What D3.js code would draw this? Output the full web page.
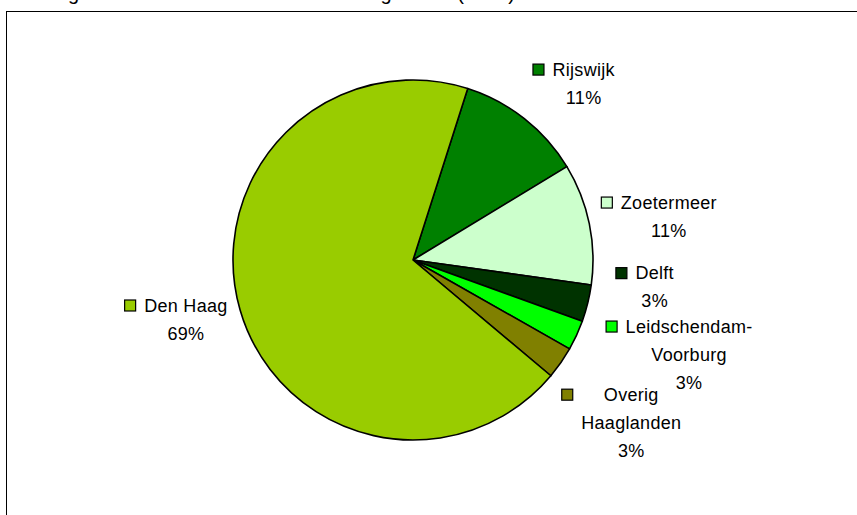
<!DOCTYPE html>
<html>
<head>
<meta charset="utf-8">
<script src="https://cdn.jsdelivr.net/npm/d3@7"></script>
<style>
  body { margin: 0; background: #fff; }
  svg { display: block; }
  text { font-family: "Liberation Sans", Arial, sans-serif; font-size: 18px; fill: #000; }
</style>
</head>
<body>
<script>
// Chart data
var gemeenten = ["Rijswijk", "Zoetermeer", "Delft", "Leidschendam-Voorburg", "Overig Haaglanden", "Den Haag"];
var aandeel = [11.4, 10.9, 3.3, 2.7, 2.9, 68.8];
var kleuren = ["#008000", "#CCFFCC", "#003300", "#00FF00", "#808000", "#99CC00"];
// label text as it wraps in the chart
var labelRegels = [["Rijswijk"], ["Zoetermeer"], ["Delft"], ["Leidschendam-", "Voorburg"], ["Overig", "Haaglanden"], ["Den Haag"]];
var titel = "Leerlingen VO met een woonadres in Haaglanden (2006)";

var svgWidth = 857;
var svgHeight = 515;

var cx = 413, cy = 260, radius = 180;
var lineHeight = 28;
// fine placement of the labels relative to the slice direction
var labelNudge = [[16, 20], [11, 7], [-1, -33], [49, -10], [13, 20], [13, -10]];

var svg = d3.select("body")
  .append("svg")
  .attr("width", svgWidth)
  .attr("height", svgHeight);

// title, mostly cut off at the top of the picture (only descenders show)
svg.append("text")
  .attr("x", 8)
  .attr("y", 0)
  .style("font-size", "20px")
  .text(titel);

// chart area border (runs off the right and bottom)
svg.append("rect")
  .attr("x", 6.5)
  .attr("y", 11.5)
  .attr("width", svgWidth + 20)
  .attr("height", svgHeight + 20)
  .attr("fill", "none")
  .attr("stroke", "#000")
  .attr("stroke-width", 1);

var start = 17.7 * Math.PI / 180;
var pie = d3.pie()
  .sort(null)
  .value(d => d)
  .startAngle(start)
  .endAngle(start + 2 * Math.PI);

var arcs = pie(aandeel);

var arc = d3.arc().innerRadius(0).outerRadius(radius);
var labelArc = d3.arc().innerRadius(250).outerRadius(250);

var g = svg.append("g")
  .attr("transform", `translate(${cx}, ${cy})`);

g.selectAll("path")
  .data(arcs)
  .enter()
  .append("path")
  .attr("d", arc)
  .attr("fill", (d, i) => kleuren[i])
  .attr("stroke", "#000")
  .attr("stroke-width", 1.6)
  .attr("stroke-linejoin", "round");

var pct = d3.format(".0f");

arcs.forEach(function(d, i) {
  var c = labelArc.centroid(d);
  var x = c[0] + labelNudge[i][0];
  var y = c[1] + labelNudge[i][1];
  var regels = labelRegels[i].concat([pct(aandeel[i]) + "%"]);
  var top = y - (regels.length - 1) / 2 * lineHeight;

  var lg = g.append("g").attr("class", "label");
  var widths = [];
  regels.forEach(function(r, j) {
    var t = lg.append("text")
      .attr("x", x)
      .attr("y", top + j * lineHeight)
      .attr("dy", "0.35em")
      .attr("text-anchor", "middle")
      .attr("letter-spacing", "0.3px")
      .text(r);
    widths.push(t.node().getComputedTextLength());
  });

  // legend key left of the label block
  var left = x - d3.max(widths) / 2;
  lg.append("rect")
    .attr("x", left - 19.5)
    .attr("y", top - 5.5)
    .attr("width", 11)
    .attr("height", 11)
    .attr("fill", kleuren[i])
    .attr("stroke", "#000")
    .attr("stroke-width", 1.2);
});
</script>
</body>
</html>
